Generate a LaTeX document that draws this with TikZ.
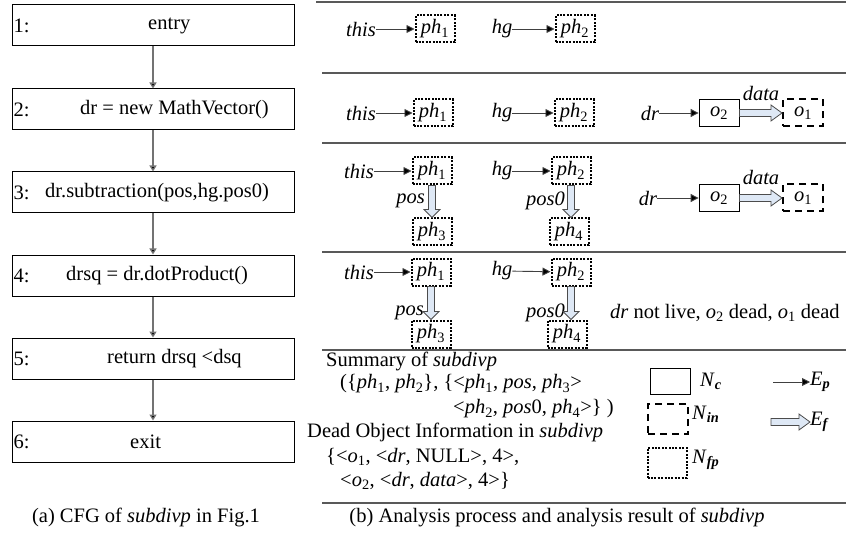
\documentclass[tikz,border=0pt]{standalone}
\usepackage{fontspec}
\setmainfont{Liberation Serif}
\usetikzlibrary{arrows.meta,calc}
\definecolor{flowfill}{RGB}{222,232,245}
\newcommand{\ph}[1]{\textit{ph}\textsubscript{#1}}
\newcommand{\ob}[1]{\textit{o}\textsubscript{#1}}
\newcommand{\legsym}[2]{\textit{#1}\textsubscript{\textbf{\textit{#2}}}}
% hollow field arrows, drawn as outlines
\newcommand{\fright}[2]{\path[farrow] let \p1=(#1.east), \p2=(#2.west) in
  (\x1,\y1+3.5pt) -- (\x2-11pt,\y1+3.5pt) -- (\x2-11pt,\y1+8pt) -- (\x2,\y1)
  -- (\x2-11pt,\y1-8pt) -- (\x2-11pt,\y1-3.5pt) -- (\x1,\y1-3.5pt) -- cycle;}
\newcommand{\fdown}[2]{\path[farrow] let \p1=(#1.south), \p2=(#2.north) in
  (\x1-3.5pt,\y1) -- (\x1-3.5pt,\y2+8pt) -- (\x1-8pt,\y2+8pt) -- (\x1,\y2)
  -- (\x1+8pt,\y2+8pt) -- (\x1+3.5pt,\y2+8pt) -- (\x1+3.5pt,\y1) -- cycle;}
\tikzset{
  every node/.style={font=\fontsize{20.5}{24}\selectfont},
  cfgbox/.style={draw, line width=1pt, minimum width=282pt, minimum height=41pt, inner sep=0pt},
  plain/.style={inner sep=0pt},
  fpbox/.style={draw, line width=2pt, dash pattern=on 2pt off 1.4pt, minimum width=39pt, minimum height=27pt, inner sep=0pt},
  inbox/.style={draw, line width=2pt, dash pattern=on 7pt off 5pt, minimum width=40pt, minimum height=27pt, inner sep=0pt},
  cbox/.style={draw, line width=0.8pt, minimum width=40pt, minimum height=27pt, inner sep=0pt},
  parrow/.style={-{Triangle[length=8pt,width=8pt,fill=black]}, line width=0.9pt, black!75},
  cfgarrow/.style={-{Triangle[length=6pt,width=7pt,fill=black]}, line width=1.3pt, black!55},
  farrow/.style={draw=black!70, line width=0.8pt, fill=flowfill},
  sepline/.style={black!65, line width=1.3pt},
}
\begin{document}
\begin{tikzpicture}[x=1pt,y=-1pt]
  \useasboundingbox (0,0) rectangle (846,540);
  % (a) CFG
  \node[cfgbox] (b1) at (153,25.5) {};
  \node[cfgbox] (b2) at (153,109.5) {};
  \node[cfgbox] (b3) at (153,192.5) {};
  \node[cfgbox] (b4) at (153,275.5) {};
  \node[cfgbox] (b5) at (153,358.5) {};
  \node[cfgbox] (b6) at (153,441.5) {};
  \node[plain, anchor=west] (n1) at ([xshift=2pt]b1.west) {1:};
  \node[plain, anchor=west] (n2) at ([xshift=2pt]b2.west) {2:};
  \node[plain, anchor=west] (n3) at ([xshift=2pt]b3.west) {3:};
  \node[plain, anchor=west] (n4) at ([xshift=2pt]b4.west) {4:};
  \node[plain, anchor=west] (n5) at ([xshift=2pt]b5.west) {5:};
  \node[plain, anchor=west] (n6) at ([xshift=2pt]b6.west) {6:};
  \node[plain, anchor=west] (t1) at (148,25.5) {entry};
  \node[plain, anchor=west] (t2) at (80,109.5) {dr = new MathVector()};
  \node[plain, anchor=west] (t3) at (45,192.5) {dr.subtraction(pos,hg.pos0)};
  \node[plain, anchor=west] (t4) at (66,275.5) {drsq = dr.dotProduct()};
  \node[plain, anchor=west] (t5) at (107,358.5) {return drsq <dsq};
  \node[plain, anchor=west] (t6) at (130,441.5) {exit};
  \draw[cfgarrow] (b1) -- (b2);
  \draw[cfgarrow] (b2) -- (b3);
  \draw[cfgarrow] (b3) -- (b4);
  \draw[cfgarrow] (b4) -- (b5);
  \draw[cfgarrow] (b5) -- (b6);
  \node (capa) at (146,517) {(a) CFG of \textit{subdivp} in Fig.1};
  % (b) separators
  \draw[sepline] (316,2) -- (846,2);
  \draw[sepline] (322,73) -- (846,73);
  \draw[sepline] (322,143) -- (846,143);
  \draw[sepline] (322,252) -- (846,252);
  \draw[sepline] (322,350) -- (846,350);
  \draw[sepline] (322,503) -- (846,503);
  % row 1
  \node[plain] (this1) at (361,29) {\textit{this}};
  \node[fpbox] (ph11) at (435,29) {\ph{1}};
  \node[plain] (hg1) at (502,29) {\textit{hg}};
  \node[fpbox] (ph21) at (575,29) {\ph{2}};
  \draw[parrow] (this1) -- (ph11);
  \draw[parrow] (hg1) -- (ph21);
  % row 2
  \node[plain] (this2) at (361,113) {\textit{this}};
  \node[fpbox] (ph12) at (433,113) {\ph{1}};
  \node[plain] (hg2) at (502,113) {\textit{hg}};
  \node[fpbox] (ph22) at (574,113) {\ph{2}};
  \node[plain] (dr2) at (650,113) {\textit{dr}};
  \node[cbox] (o22) at (719,113) {\ob{2}};
  \node[inbox] (o12) at (803,113) {\ob{1}};
  \node[plain] (data2) at (761,93) {\textit{data}};
  \draw[parrow] (this2) -- (ph12);
  \draw[parrow] (hg2) -- (ph22);
  \draw[parrow] (dr2) -- (o22);
  \fright{o22}{o12}
  % row 3
  \node[plain] (this3) at (359,171) {\textit{this}};
  \node[fpbox] (ph13) at (432,171) {\ph{1}};
  \node[fpbox] (ph33) at (432,232) {\ph{3}};
  \node[plain, anchor=east] (pos3) at (425,201) {\textit{pos}};
  \node[plain] (hg3) at (502,171) {\textit{hg}};
  \node[fpbox] (ph23) at (571,171) {\ph{2}};
  \node[fpbox] (ph43) at (569,232) {\ph{4}};
  \node[plain, anchor=east] (pos03) at (565,201) {\textit{pos0}};
  \node[plain] (dr3) at (648,198) {\textit{dr}};
  \node[cbox] (o23) at (719,198) {\ob{2}};
  \node[inbox] (o13) at (803,198) {\ob{1}};
  \node[plain] (data3) at (761,177) {\textit{data}};
  \draw[parrow] (this3) -- (ph13);
  \draw[parrow] (hg3) -- (ph23);
  \draw[parrow] (dr3) -- (o23);
  \fdown{ph13}{ph33}
  \fdown{ph23}{ph43}
  \fright{o23}{o13}
  % row 4
  \node[plain] (this4) at (359,272) {\textit{this}};
  \node[fpbox] (ph14) at (431,272) {\ph{1}};
  \node[fpbox] (ph34) at (431,334) {\ph{3}};
  \node[plain, anchor=east] (pos4) at (424,313) {\textit{pos}};
  \node[plain] (hg4) at (502,271) {\textit{hg}};
  \node[fpbox] (ph24) at (571,272) {\ph{2}};
  \node[fpbox] (ph44) at (567,334) {\ph{4}};
  \node[plain, anchor=east] (pos04) at (565,313) {\textit{pos0}};
  \node[plain, anchor=west] (dead4) at (610,313) {\textit{dr} not live, \ob{2} dead, \ob{1} dead};
  \draw[parrow] (this4) -- (ph14);
  \draw[parrow] (hg4) -- (ph24);
  \fdown{ph14}{ph34}
  \fdown{ph24}{ph44}
  % summary
  \node[plain, anchor=west] (s1) at (326,361) {Summary of \textit{subdivp}};
  \node[plain, anchor=west] (s2) at (340,384) {(\{\ph{1}, \ph{2}\}, \{<\ph{1}, \textit{pos}, \ph{3}>};
  \node[plain, anchor=west] (s3) at (453,409) {<\ph{2}, \textit{pos}0, \ph{4}>\} )};
  \node[plain, anchor=west] (s4) at (307,432) {Dead Object Information in \textit{subdivp}};
  \node[plain, anchor=west] (s5) at (326,457) {\{<\ob{1}, <\textit{dr}, NULL>, 4>,};
  \node[plain, anchor=west] (s6) at (340,481) {<\ob{2}, <\textit{dr}, \textit{data}>, 4>\}};
  % legend
  \node[cbox, minimum height=26pt] (lc) at (670,381) {};
  \node[plain, anchor=west] (lcl) at (700,381) {\legsym{N}{c}};
  \node[inbox, minimum height=30pt] (li) at (668,419) {};
  \node[plain, anchor=west] (lil) at (692,414) {\legsym{N}{in}};
  \node[fpbox, minimum height=30pt] (lf) at (667,463) {};
  \node[plain, anchor=west] (lfl) at (692,460) {\legsym{N}{fp}};
  \coordinate (ep0) at (773,382);
  \node[plain, anchor=west] (lep) at (810,382) {\legsym{E}{p}};
  \draw[parrow] (ep0) -- (lep);
  \coordinate (ef0) at (771,422);
  \node[plain, anchor=west] (lef) at (810,422) {\legsym{E}{f}};
  \path[farrow] let \p1=(ef0), \p2=(lef.west) in
    (\x1,\y1+3.5pt) -- (\x2-11pt,\y1+3.5pt) -- (\x2-11pt,\y1+8pt) -- (\x2,\y1)
    -- (\x2-11pt,\y1-8pt) -- (\x2-11pt,\y1-3.5pt) -- (\x1,\y1-3.5pt) -- cycle;
  \node (capb) at (557,517) {(b) Analysis process and analysis result of \textit{subdivp}};
\end{tikzpicture}
\end{document}
